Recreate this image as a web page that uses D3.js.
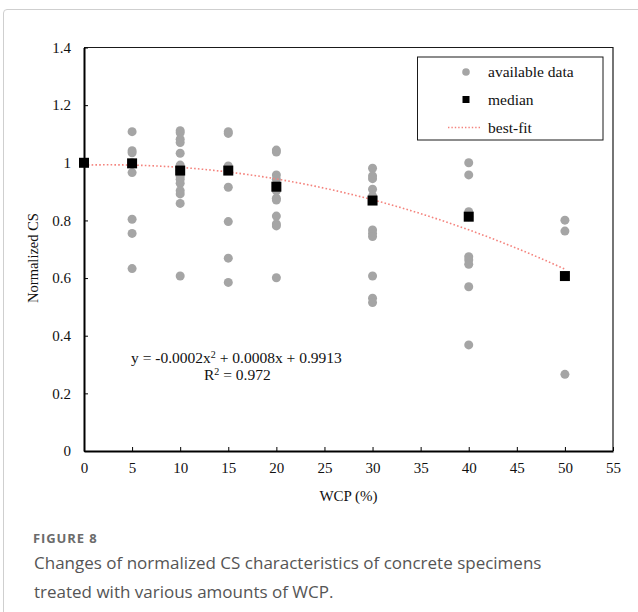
<!DOCTYPE html>
<html>
<head>
<meta charset="utf-8">
<script src="https://cdn.jsdelivr.net/npm/d3@7"></script>
<style>
  html, body { margin: 0; padding: 0; background: #fff; }
  svg { display: block; }
</style>
</head>
<body>
<svg id="chart" width="638" height="612"></svg>
<script>
// WCP replacement levels (%) and the median normalized CS at each level
const wcpLevels = [0, 5, 10, 15, 20, 30, 40, 50];
const medianCS = [1.0, 0.998, 0.973, 0.973, 0.917, 0.869, 0.813, 0.607];

// Individual normalized CS values reported at each WCP level
const availableCS = [
  [1.0],
  [1.108, 1.042, 1.035, 1.0, 0.966, 0.804, 0.755, 0.633],
  [1.111, 1.104, 1.082, 1.070, 1.033, 0.992, 0.973, 0.952, 0.943, 0.929, 0.903, 0.892, 0.859, 0.607],
  [1.108, 1.102, 0.989, 0.973, 0.915, 0.796, 0.669, 0.585],
  [1.044, 1.037, 0.958, 0.943, 0.917, 0.903, 0.877, 0.871, 0.815, 0.788, 0.781, 0.601],
  [0.981, 0.954, 0.945, 0.908, 0.885, 0.869, 0.767, 0.755, 0.744, 0.607, 0.530, 0.515],
  [1.000, 0.958, 0.830, 0.813, 0.674, 0.663, 0.648, 0.570, 0.368],
  [0.801, 0.763, 0.607, 0.266]
];

const xTicks = [0, 5, 10, 15, 20, 25, 30, 35, 40, 45, 50, 55];
const yTicks = [0, 0.2, 0.4, 0.6, 0.8, 1.0, 1.2, 1.4];

const seriesNames = ["available data", "median", "best-fit"];
const equationText = ["y = -0.0002x", "2", " + 0.0008x + 0.9913"];
const r2Text = ["R", "2", " = 0.972"];
const xTitle = "WCP (%)";
const yTitle = "Normalized CS";
const figureLabel = "FIGURE 8";
const captionLines = [
  "Changes of normalized CS characteristics of concrete specimens",
  "treated with various amounts of WCP."
];

// Least-squares quadratic through the medians (solves the 3x3 normal equations)
function quadFit(xs, ys) {
  const S = k => d3.sum(xs, x => Math.pow(x, k));
  const T = k => d3.sum(xs.map((x, i) => Math.pow(x, k) * ys[i]));
  const A = [[S(4), S(3), S(2)], [S(3), S(2), S(1)], [S(2), S(1), S(0)]];
  const b = [T(2), T(1), T(0)];
  const n = 3;
  for (let i = 0; i < n; i++) {
    let p = i;
    for (let r = i + 1; r < n; r++) if (Math.abs(A[r][i]) > Math.abs(A[p][i])) p = r;
    [A[i], A[p]] = [A[p], A[i]]; [b[i], b[p]] = [b[p], b[i]];
    for (let r = i + 1; r < n; r++) {
      const f = A[r][i] / A[i][i];
      for (let c = i; c < n; c++) A[r][c] -= f * A[i][c];
      b[r] -= f * b[i];
    }
  }
  const sol = [0, 0, 0];
  for (let i = n - 1; i >= 0; i--) {
    let s = b[i];
    for (let c = i + 1; c < n; c++) s -= A[i][c] * sol[c];
    sol[i] = s / A[i][i];
  }
  return sol; // [a, b, c]
}

const svg = d3.select("#chart");
const serif = "'Liberation Serif', 'Times New Roman', serif";
const sans = "'Open Sans', 'Noto Sans', sans-serif";

// Card outline
svg.append("path")
  .attr("d", "M3.5,612 V13 Q3.5,9.5 7,9.5 H640")
  .attr("fill", "none").attr("stroke", "#cfcfcf").attr("stroke-width", 1);

const plot = { left: 84, right: 613, top: 47.5, bottom: 451 };
const x = d3.scaleLinear().domain([0, 55]).range([plot.left, plot.right]);
const y = d3.scaleLinear().domain([0, 1.4]).range([plot.bottom, plot.top]);

// Frame (top and right)
svg.append("path")
  .attr("d", `M${plot.left},${plot.top} H${plot.right} V${plot.bottom}`)
  .attr("fill", "none").attr("stroke", "#1a1a1a").attr("stroke-width", 1.2);

// Axes with inward ticks
const xAxis = svg.append("g")
  .attr("transform", `translate(0,${plot.bottom})`)
  .call(d3.axisBottom(x).tickValues(xTicks).tickSizeInner(-4).tickSizeOuter(0).tickPadding(14)
    .tickFormat(d3.format("d")));
const yAxis = svg.append("g")
  .attr("transform", `translate(${plot.left},0)`)
  .call(d3.axisLeft(y).tickValues(yTicks).tickSizeInner(-4).tickSizeOuter(0).tickPadding(13)
    .tickFormat(d => d3.format("~g")(+d.toFixed(1))));

[xAxis, yAxis].forEach(g => {
  g.select(".domain").attr("stroke", "#000").attr("stroke-width", 2);
  g.selectAll(".tick line").attr("stroke", "#000").attr("stroke-width", 1);
  g.selectAll(".tick text").attr("font-family", serif).attr("font-size", 15).attr("fill", "#111");
});
xAxis.selectAll(".tick text").attr("dy", "0.71em").attr("y", 11);

// Available data points
const pts = [];
wcpLevels.forEach((w, i) => availableCS[i].forEach(v => pts.push({ w, v })));
svg.append("g").selectAll("circle").data(pts).join("circle")
  .attr("cx", d => x(d.w)).attr("cy", d => y(d.v)).attr("r", 4.5)
  .attr("fill", "#a5a5a5");

// Best-fit curve
const [qa, qb, qc] = quadFit(wcpLevels, medianCS);
const fitPts = d3.range(0, 50.01, 0.5).map(w => ({ w, v: qa * w * w + qb * w + qc }));
svg.append("path")
  .datum(fitPts)
  .attr("d", d3.line().x(d => x(d.w)).y(d => y(d.v)))
  .attr("fill", "none").attr("stroke", "#f4837d").attr("stroke-width", 1.6)
  .attr("stroke-dasharray", "1.6,2.2");

// Medians
svg.append("g").selectAll("rect").data(wcpLevels.map((w, i) => ({ w, v: medianCS[i] }))).join("rect")
  .attr("x", d => x(d.w) - 5).attr("y", d => y(d.v) - 5)
  .attr("width", 10).attr("height", 10).attr("fill", "#000");

// Fit equation
function supText(tx, ty, parts) {
  const t = svg.append("text").attr("x", tx).attr("y", ty)
    .attr("font-family", serif).attr("font-size", 15.5).attr("fill", "#111");
  t.append("tspan").text(parts[0]);
  t.append("tspan").attr("dy", -5).attr("font-size", 10).text(parts[1]);
  t.append("tspan").attr("dy", 5).text(parts[2]);
}
supText(131, 363, equationText);
supText(204, 380, r2Text);

// Legend
const lg = svg.append("g");
lg.append("rect").attr("x", 417.5).attr("y", 57).attr("width", 185.5).attr("height", 83)
  .attr("fill", "#fff").attr("stroke", "#1a1a1a").attr("stroke-width", 1);
lg.append("circle").attr("cx", 466).attr("cy", 72).attr("r", 3.8).attr("fill", "#a5a5a5");
lg.append("rect").attr("x", 462.5).attr("y", 96).attr("width", 7).attr("height", 7).attr("fill", "#000");
lg.append("line").attr("x1", 448).attr("x2", 482).attr("y1", 127.5).attr("y2", 127.5)
  .attr("stroke", "#f4837d").attr("stroke-width", 1.4).attr("stroke-dasharray", "1.4,2");
seriesNames.forEach((s, i) => {
  lg.append("text").attr("x", 488).attr("y", 72 + i * 27.7).attr("dy", "0.35em")
    .attr("font-family", serif).attr("font-size", 15.5).attr("fill", "#111").text(s);
});

// Axis titles
svg.append("text").attr("x", (plot.left + plot.right) / 2).attr("y", 501)
  .attr("text-anchor", "middle").attr("font-family", serif).attr("font-size", 15)
  .attr("fill", "#111").text(xTitle);
svg.append("text").attr("transform", "translate(38,258) rotate(-90)")
  .attr("text-anchor", "middle").attr("font-family", serif).attr("font-size", 14.5)
  .attr("fill", "#111").text(yTitle);

// Caption
svg.append("text").attr("x", 33).attr("y", 543)
  .attr("font-family", sans).attr("font-size", 13).attr("font-weight", 700)
  .attr("letter-spacing", 0.9).attr("fill", "#6b6b6b").text(figureLabel);
captionLines.forEach((l, i) => {
  svg.append("text").attr("x", 34).attr("y", 569 + i * 29)
    .attr("font-family", sans).attr("font-size", 17).attr("fill", "#555").text(l);
});
</script>
</body>
</html>
